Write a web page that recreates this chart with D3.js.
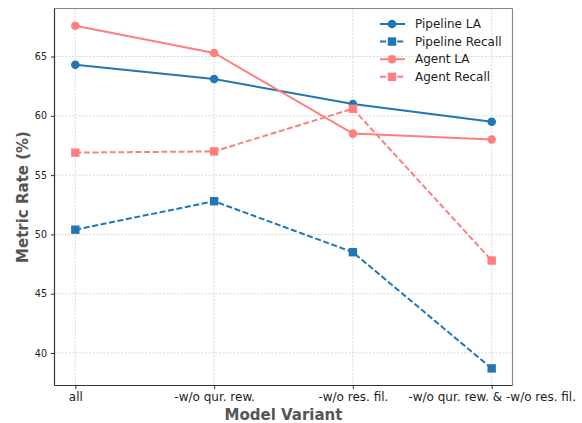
<!DOCTYPE html>
<html><head><meta charset="utf-8">
<script src="https://cdn.jsdelivr.net/npm/d3@7"></script>
<style>body{margin:0;background:#fff}svg{display:block}text{font-family:"DejaVu Sans",sans-serif}</style>
</head><body><svg id="c" width="582" height="423"></svg>
<script>
const categories = ["all", "-w/o qur. rew.", "-w/o res. fil.", "-w/o qur. rew. & -w/o res. fil."];
const pipelineLA = [64.3, 63.1, 61.0, 59.5];
const pipelineRecall = [50.4, 52.8, 48.5, 38.7];
const agentLA = [67.6, 65.3, 58.5, 58.0];
const agentRecall = [56.9, 57.0, 60.6, 47.8];
const yTicks = [40, 45, 50, 55, 60, 65];

const series = [
  {name: "Pipeline LA", values: pipelineLA, color: "#1f77b4", dash: null, marker: "circle"},
  {name: "Pipeline Recall", values: pipelineRecall, color: "#1f77b4", dash: "6,2.6", marker: "square"},
  {name: "Agent LA", values: agentLA, color: "#ff7f7f", dash: null, marker: "circle"},
  {name: "Agent Recall", values: agentRecall, color: "#ff7f7f", dash: "6,2.6", marker: "square"}
];

const svg = d3.select("#c");
const L = 54.5, R = 512.5, T = 8.5, B = 385.5;
const x = d3.scaleLinear().domain([-0.15, 3.15]).range([L, R]);
const y = d3.scaleLinear().domain([37.26, 69.05]).range([B, T]);

// grid
const g = svg.append("g");
g.selectAll(".gx").data(categories).enter().append("line")
  .attr("x1", (d,i)=>x(i)).attr("x2", (d,i)=>x(i)).attr("y1", T).attr("y2", B)
  .attr("stroke", "#c8c8c8").attr("stroke-width", 0.7).attr("stroke-dasharray", "2,1.5");
g.selectAll(".gy").data(yTicks).enter().append("line")
  .attr("x1", L).attr("x2", R).attr("y1", d=>y(d)).attr("y2", d=>y(d))
  .attr("stroke", "#c8c8c8").attr("stroke-width", 0.7).attr("stroke-dasharray", "2,1.5");

// lines
const line = d3.line().x((d,i)=>x(i)).y(d=>y(d));
series.forEach(s => {
  svg.append("path").datum(s.values).attr("d", line).attr("fill", "none")
    .attr("stroke", s.color).attr("stroke-width", 2)
    .attr("stroke-dasharray", s.dash);
  const m = svg.append("g");
  s.values.forEach((v,i) => {
    if (s.marker === "circle") {
      m.append("circle").attr("cx", x(i)).attr("cy", y(v)).attr("r", 4.3).attr("fill", s.color);
    } else {
      m.append("rect").attr("x", x(i)-4.2).attr("y", y(v)-4.2).attr("width", 8.4).attr("height", 8.4).attr("fill", s.color);
    }
  });
});

// axes
const xAxis = d3.axisBottom(x).tickValues([0,1,2,3]).tickFormat(i=>categories[i]).tickSize(3.5).tickPadding(3.5);
const xa = svg.append("g").attr("transform", `translate(0,${B})`).call(xAxis);
xa.select(".domain").remove();
xa.selectAll("text").attr("font-size", 12).attr("fill", "#222");
xa.selectAll("line").attr("stroke", "#333");

const yAxis = d3.axisLeft(y).tickValues(yTicks).tickSize(3.5).tickPadding(4);
const ya = svg.append("g").attr("transform", `translate(${L},0)`).call(yAxis);
ya.select(".domain").remove();
ya.selectAll("text").attr("font-size", 9.6).attr("fill", "#222");
ya.selectAll("line").attr("stroke", "#333");

// spines
svg.append("line").attr("x1", L).attr("x2", R).attr("y1", T).attr("y2", T).attr("stroke", "#888").attr("stroke-width", 1.2);
svg.append("line").attr("x1", R).attr("x2", R).attr("y1", T).attr("y2", B).attr("stroke", "#888").attr("stroke-width", 1.2);
svg.append("line").attr("x1", L).attr("x2", L).attr("y1", T).attr("y2", B).attr("stroke", "#333").attr("stroke-width", 1.2);
svg.append("line").attr("x1", L).attr("x2", R).attr("y1", B).attr("y2", B).attr("stroke", "#333").attr("stroke-width", 1.2);

// axis labels
svg.append("text").attr("x", (L+R)/2).attr("y", 420).attr("text-anchor", "middle")
  .attr("font-size", 15).attr("font-weight", "bold").attr("fill", "#555").text("Model Variant");
svg.append("text").attr("transform", `translate(28,${(T+B)/2}) rotate(-90)`).attr("text-anchor", "middle")
  .attr("font-size", 15).attr("font-weight", "bold").attr("fill", "#555").text("Metric Rate (%)");

// legend
const lg = svg.append("g");
series.forEach((s, k) => {
  const yy = 24 + k*17.6;
  lg.append("line").attr("x1", 380).attr("x2", 405).attr("y1", yy).attr("y2", yy)
    .attr("stroke", s.color).attr("stroke-width", 2).attr("stroke-dasharray", s.dash);
  if (s.marker === "circle") lg.append("circle").attr("cx", 392).attr("cy", yy).attr("r", 4.3).attr("fill", s.color);
  else lg.append("rect").attr("x", 387.8).attr("y", yy-4.2).attr("width", 8.4).attr("height", 8.4).attr("fill", s.color);
  lg.append("text").attr("x", 415).attr("y", yy).attr("dy", "0.35em").attr("font-size", 12).attr("fill", "#222").text(s.name);
});
</script></body></html>
